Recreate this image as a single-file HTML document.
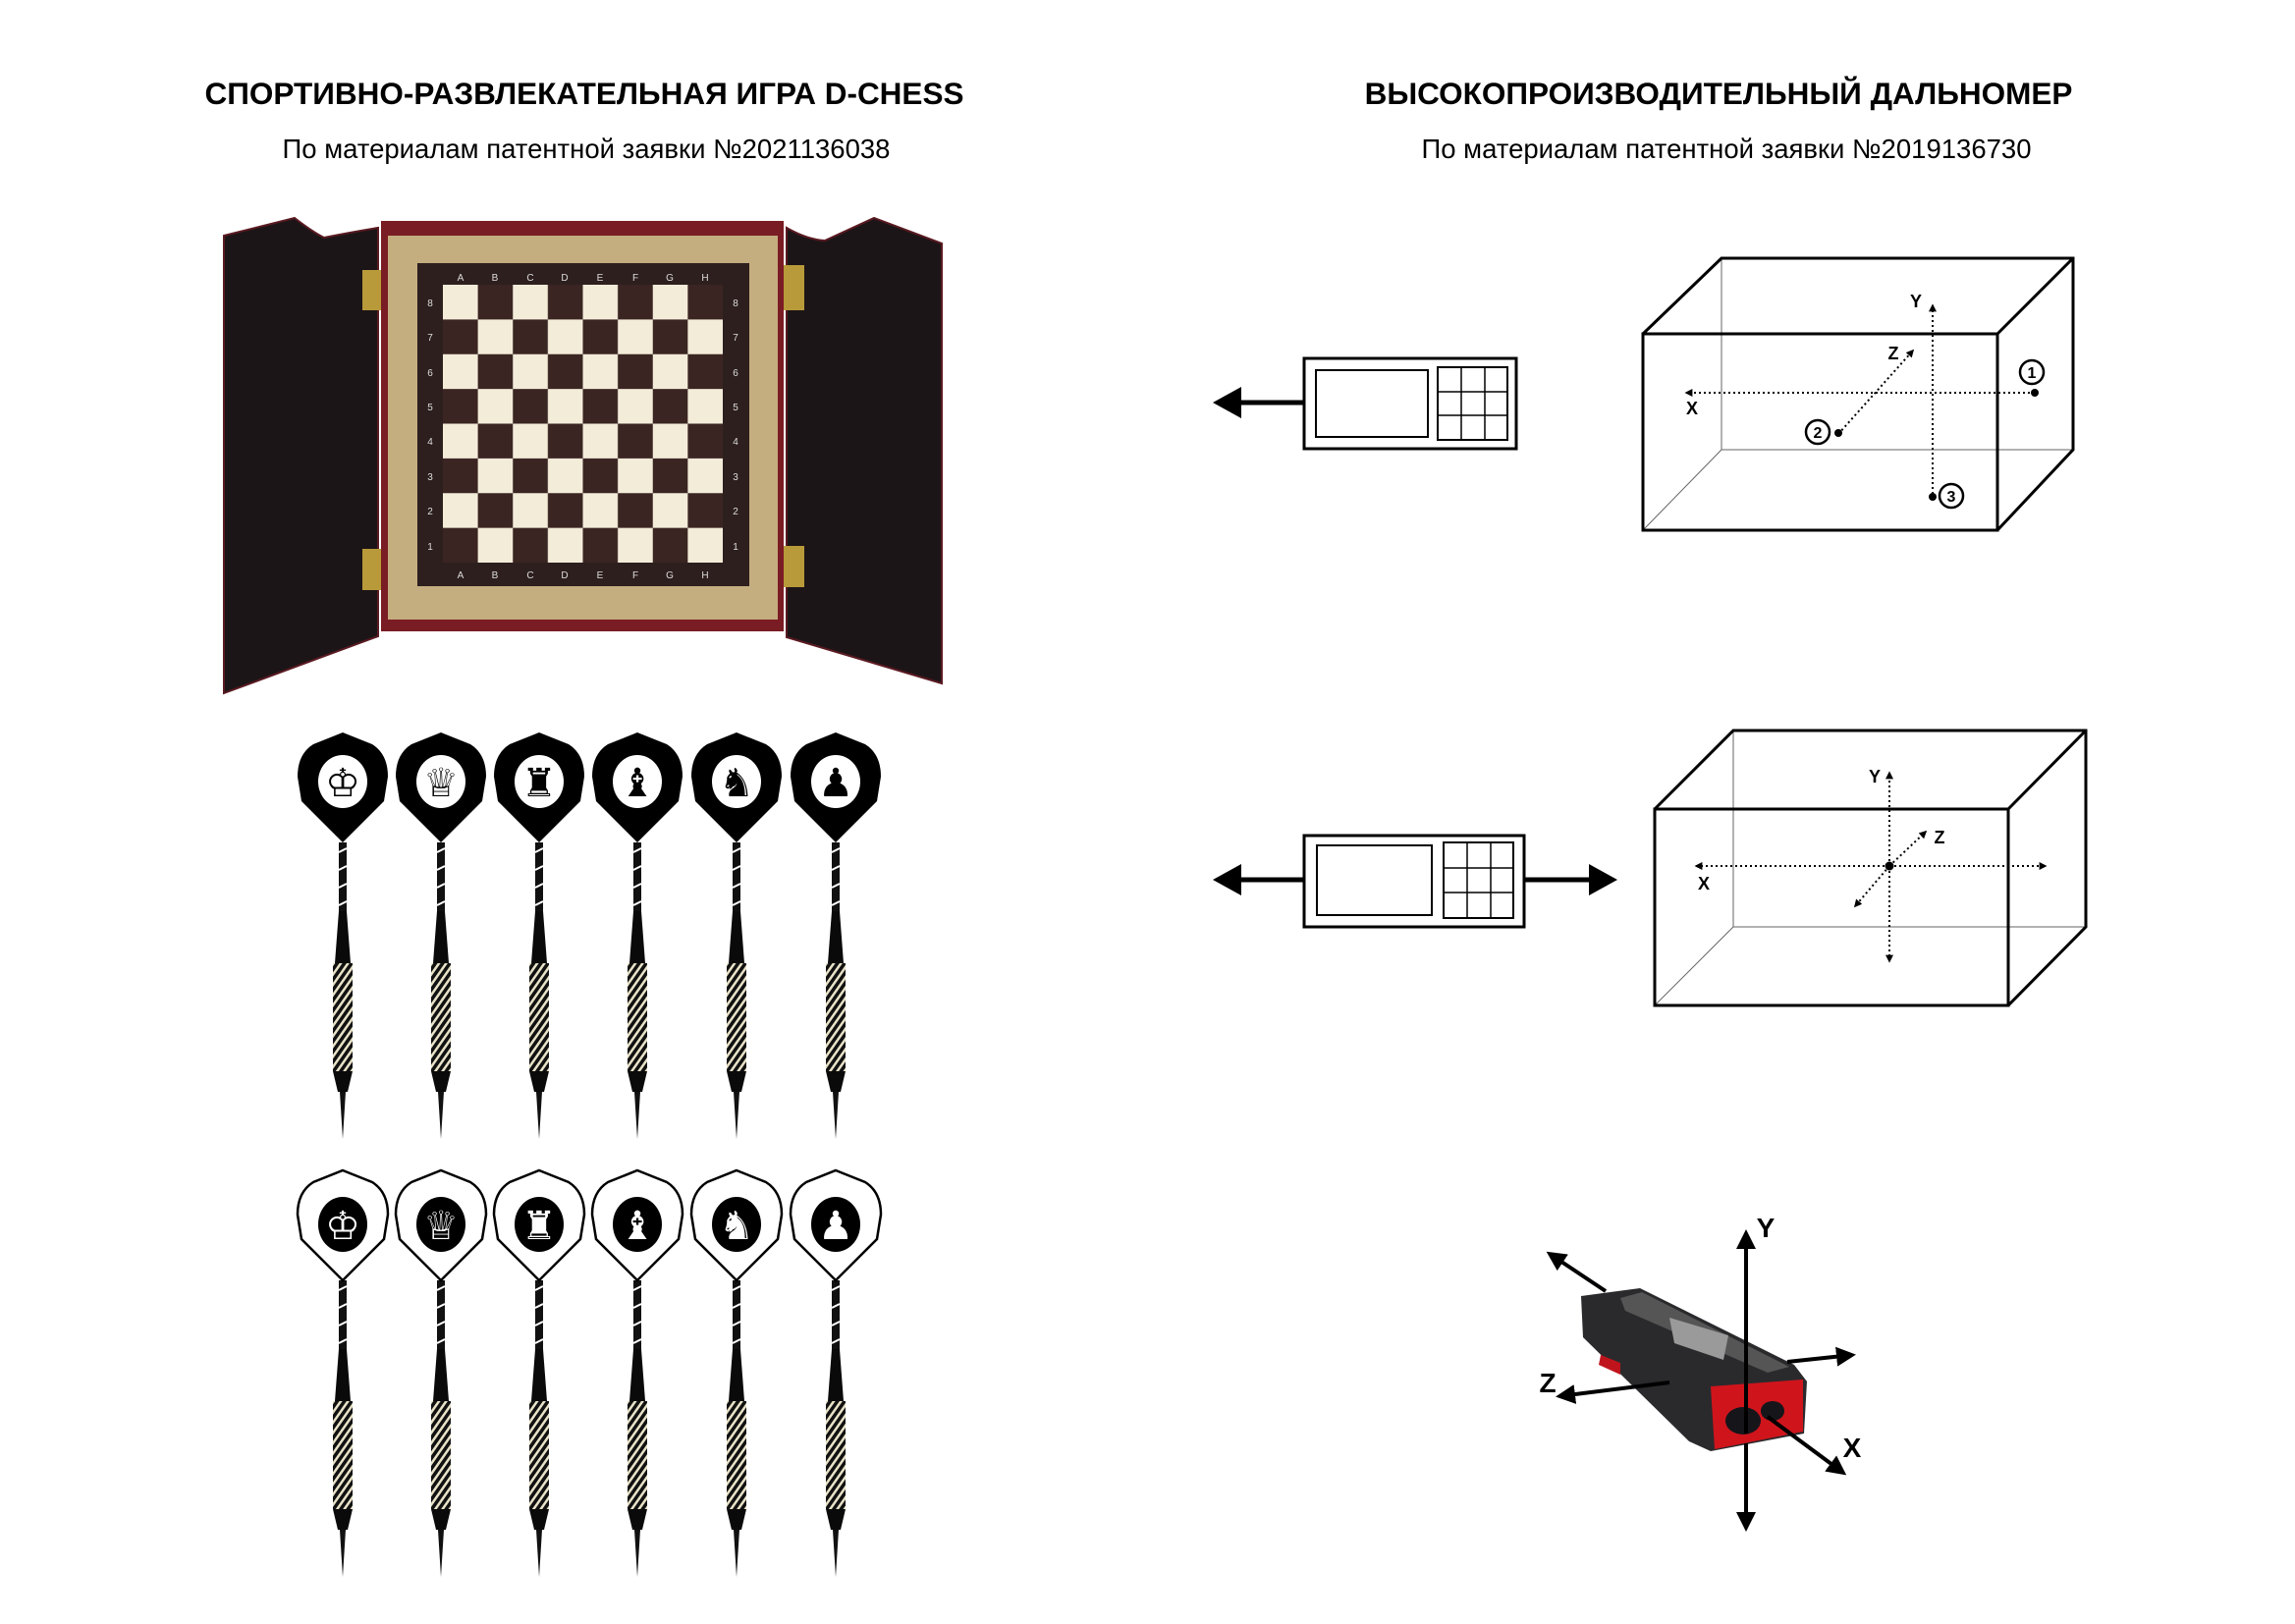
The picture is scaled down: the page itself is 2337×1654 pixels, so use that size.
<!DOCTYPE html>
<html><head><meta charset="utf-8"><style>
html,body{margin:0;padding:0;background:#fff}
svg{display:block}
.t{font-family:"Liberation Sans",sans-serif}
</style></head><body>
<svg width="2337" height="1654" viewBox="0 0 2337 1654" xmlns="http://www.w3.org/2000/svg">
<defs>
<pattern id="chk" x="451" y="290" width="71.25" height="70.75" patternUnits="userSpaceOnUse">
<rect width="71.25" height="70.75" fill="#f3ecd9"/>
<rect x="35.6" y="0" width="35.65" height="35.4" fill="#3a2522"/>
<rect x="0" y="35.4" width="35.6" height="35.35" fill="#3a2522"/>
</pattern>
<pattern id="str" width="6" height="6" patternUnits="userSpaceOnUse" patternTransform="rotate(35)">
<rect width="6" height="6" fill="#111"/><rect width="2.5" height="6" fill="#e8e2c8"/>
</pattern>
<g id="body">
<rect x="-4" y="112" width="8" height="70" fill="#111"/>
<path d="M-4,122 l8,-4 M-4,140 l8,-4 M-4,158 l8,-4 M-4,176 l8,-4" stroke="#fff" stroke-width="2"/>
<polygon points="-4,182 4,182 8,235 -8,235" fill="#0a0a0a"/>
<rect x="-10" y="235" width="20" height="110" fill="url(#str)"/>
<polygon points="-10,345 10,345 5,366 -5,366" fill="#0a0a0a"/>
<polygon points="-3,366 3,366 0,414" fill="#111"/>
</g>
<path id="fl" d="M0,0 L30,12 Q46,22 46,45 L42,70 L0,112 L-42,70 L-46,45 Q-46,22 -30,12 Z"/>
<marker id="ah" viewBox="0 0 10 10" refX="8" refY="5" markerWidth="4" markerHeight="4" orient="auto"><path d="M0,0 L10,5 L0,10 Z" fill="#000"/></marker>
<marker id="bh" viewBox="0 0 10 10" refX="8" refY="5" markerWidth="5" markerHeight="5" orient="auto"><path d="M0,0 L10,5 L0,10 Z" fill="#000"/></marker>
</defs>

<!-- titles -->
<text class="t" x="595" y="106" font-size="31.5" font-weight="bold" text-anchor="middle">СПОРТИВНО-РАЗВЛЕКАТЕЛЬНАЯ ИГРА D-CHESS</text>
<text class="t" x="597" y="161" font-size="27.5" text-anchor="middle">По материалам патентной заявки №2021136038</text>
<text class="t" x="1750" y="106" font-size="31.5" font-weight="bold" text-anchor="middle">ВЫСОКОПРОИЗВОДИТЕЛЬНЫЙ ДАЛЬНОМЕР</text>
<text class="t" x="1758" y="161" font-size="27.5" text-anchor="middle">По материалам патентной заявки №2019136730</text>

<!-- chess cabinet -->
<path d="M228,240 L300,222 Q318,236 330,242 Q360,236 385,232 L385,648 L228,706 Z" fill="#1c1517" stroke="#5a1a22" stroke-width="2"/>
<path d="M801,232 Q822,244 840,245 Q868,232 890,222 L959,248 L959,696 L801,649 Z" fill="#1c1517" stroke="#5a1a22" stroke-width="2"/>
<rect x="388" y="225" width="410" height="418" fill="#7a1c24"/>
<rect x="395" y="240" width="397" height="391" fill="#c4ad7f"/>
<rect x="425" y="268" width="338" height="329" fill="#2d1f1e"/>
<rect x="451" y="290" width="285" height="283" fill="url(#chk)"/>
<g fill="#ddd" font-size="10" class="t" text-anchor="middle">
<text x="469" y="286">A</text><text x="504" y="286">B</text><text x="540" y="286">C</text><text x="575" y="286">D</text><text x="611" y="286">E</text><text x="647" y="286">F</text><text x="682" y="286">G</text><text x="718" y="286">H</text>
<text x="469" y="589">A</text><text x="504" y="589">B</text><text x="540" y="589">C</text><text x="575" y="589">D</text><text x="611" y="589">E</text><text x="647" y="589">F</text><text x="682" y="589">G</text><text x="718" y="589">H</text>
<text x="438" y="312">8</text><text x="438" y="347">7</text><text x="438" y="383">6</text><text x="438" y="418">5</text><text x="438" y="453">4</text><text x="438" y="489">3</text><text x="438" y="524">2</text><text x="438" y="560">1</text>
<text x="749" y="312">8</text><text x="749" y="347">7</text><text x="749" y="383">6</text><text x="749" y="418">5</text><text x="749" y="453">4</text><text x="749" y="489">3</text><text x="749" y="524">2</text><text x="749" y="560">1</text>
</g>
<g fill="#b89a3a"><rect x="369" y="275" width="19" height="41"/><rect x="369" y="559" width="19" height="42"/><rect x="798" y="270" width="21" height="46"/><rect x="798" y="556" width="21" height="42"/></g>

<!-- darts row 1 -->
<g font-family="DejaVu Sans" font-size="40" text-anchor="middle">
<g transform="translate(349,746)"><use href="#body"/><use href="#fl" fill="#000"/><ellipse cx="0" cy="50" rx="25" ry="27" fill="#fff"/><text x="0" y="65">♔</text></g>
<g transform="translate(449,746)"><use href="#body"/><use href="#fl" fill="#000"/><ellipse cx="0" cy="50" rx="25" ry="27" fill="#fff"/><text x="0" y="65">♕</text></g>
<g transform="translate(549,746)"><use href="#body"/><use href="#fl" fill="#000"/><ellipse cx="0" cy="50" rx="25" ry="27" fill="#fff"/><text x="0" y="65">♜</text></g>
<g transform="translate(649,746)"><use href="#body"/><use href="#fl" fill="#000"/><ellipse cx="0" cy="50" rx="25" ry="27" fill="#fff"/><text x="0" y="65">♝</text></g>
<g transform="translate(750,746)"><use href="#body"/><use href="#fl" fill="#000"/><ellipse cx="0" cy="50" rx="25" ry="27" fill="#fff"/><text x="0" y="65">♞</text></g>
<g transform="translate(851,746)"><use href="#body"/><use href="#fl" fill="#000"/><ellipse cx="0" cy="50" rx="25" ry="27" fill="#fff"/><text x="0" y="65">♟</text></g>
</g>
<!-- darts row 2 -->
<g font-family="DejaVu Sans" font-size="40" text-anchor="middle" fill="#fff">
<g transform="translate(349,1192)"><use href="#body"/><use href="#fl" fill="#fff" stroke="#000" stroke-width="2.5"/><ellipse cx="0" cy="55" rx="25" ry="28" fill="#000"/><text x="0" y="70">♔</text></g>
<g transform="translate(449,1192)"><use href="#body"/><use href="#fl" fill="#fff" stroke="#000" stroke-width="2.5"/><ellipse cx="0" cy="55" rx="25" ry="28" fill="#000"/><text x="0" y="70">♕</text></g>
<g transform="translate(549,1192)"><use href="#body"/><use href="#fl" fill="#fff" stroke="#000" stroke-width="2.5"/><ellipse cx="0" cy="55" rx="25" ry="28" fill="#000"/><text x="0" y="70">♜</text></g>
<g transform="translate(649,1192)"><use href="#body"/><use href="#fl" fill="#fff" stroke="#000" stroke-width="2.5"/><ellipse cx="0" cy="55" rx="25" ry="28" fill="#000"/><text x="0" y="70">♝</text></g>
<g transform="translate(750,1192)"><use href="#body"/><use href="#fl" fill="#fff" stroke="#000" stroke-width="2.5"/><ellipse cx="0" cy="55" rx="25" ry="28" fill="#000"/><text x="0" y="70">♞</text></g>
<g transform="translate(851,1192)"><use href="#body"/><use href="#fl" fill="#fff" stroke="#000" stroke-width="2.5"/><ellipse cx="0" cy="55" rx="25" ry="28" fill="#000"/><text x="0" y="70">♟</text></g>
</g>

<g transform="translate(-13,-3)">
<!-- device 1 -->
<g fill="none" stroke="#000">
<rect x="1341" y="368" width="216" height="92" stroke-width="3"/>
<rect x="1353" y="380" width="114" height="68" stroke-width="2"/>
<rect x="1477" y="377" width="71" height="74" stroke-width="2"/>
<path d="M1501,377 V451 M1525,377 V451 M1477,402 H1548 M1477,426 H1548" stroke-width="1.5"/>
<line x1="1341" y1="413" x2="1275" y2="413" stroke-width="5"/>
</g>
<polygon points="1248,413 1277,397 1277,429" fill="#000"/>
<!-- cube 1 -->
<g fill="none" stroke="#000">
<path d="M1766,266 V461 H2124 M1686,543 L1766,461" stroke-width="1" stroke="#666"/>
<rect x="1686" y="343" width="361" height="200" stroke-width="3"/>
<path d="M1686,343 L1766,266 H2124 V461 L2047,543 M2047,343 L2124,266" stroke-width="3"/>
<g stroke-dasharray="2 3" stroke-width="2">
<line x1="1981" y1="511" x2="1981" y2="314" marker-end="url(#ah)"/>
<line x1="2085" y1="403" x2="1730" y2="403" marker-end="url(#ah)"/>
<line x1="1885" y1="445" x2="1961" y2="360" marker-end="url(#ah)"/>
</g>
<circle cx="2082" cy="382" r="12" stroke-width="2.5"/>
<circle cx="1864" cy="443" r="12" stroke-width="2.5"/>
<circle cx="2000" cy="508" r="12" stroke-width="2.5"/>
</g>
<g fill="#000"><circle cx="2085" cy="403" r="4"/><circle cx="1885" cy="444" r="4"/><circle cx="1981" cy="509" r="4"/></g>
<g class="t" font-size="18" font-weight="bold" text-anchor="middle">
<text x="1964" y="316">Y</text><text x="1736" y="425">X</text><text x="1941" y="369">Z</text>
<text x="2082" y="388" font-size="16">1</text><text x="1864" y="449" font-size="16">2</text><text x="2000" y="514" font-size="16">3</text>
</g>

<!-- device 2 -->
<g fill="none" stroke="#000">
<rect x="1341" y="854" width="224" height="93" stroke-width="3"/>
<rect x="1354" y="864" width="117" height="71" stroke-width="2"/>
<rect x="1483" y="861" width="71" height="77" stroke-width="2"/>
<path d="M1507,861 V938 M1531,861 V938 M1483,887 H1554 M1483,912 H1554" stroke-width="1.5"/>
<line x1="1341" y1="899" x2="1275" y2="899" stroke-width="5"/>
<line x1="1565" y1="899" x2="1632" y2="899" stroke-width="5"/>
</g>
<polygon points="1248,899 1277,883 1277,915" fill="#000"/>
<polygon points="1660,899 1631,883 1631,915" fill="#000"/>
<!-- cube 2 -->
<g fill="none" stroke="#000">
<path d="M1778,747 V947 H2137 M1698,1027 L1778,947" stroke-width="1" stroke="#666"/>
<rect x="1698" y="827" width="360" height="200" stroke-width="3"/>
<path d="M1698,827 L1778,747 H2137 V947 L2058,1027 M2058,827 L2137,747" stroke-width="3"/>
<g stroke-dasharray="2 3" stroke-width="2">
<line x1="1937" y1="885" x2="1937" y2="790" marker-end="url(#ah)"/>
<line x1="1937" y1="885" x2="1937" y2="982" marker-end="url(#ah)"/>
<line x1="1937" y1="885" x2="1740" y2="885" marker-end="url(#ah)"/>
<line x1="1937" y1="885" x2="2096" y2="885" marker-end="url(#ah)"/>
<line x1="1937" y1="885" x2="1974" y2="850" marker-end="url(#ah)"/>
<line x1="1937" y1="885" x2="1902" y2="926" marker-end="url(#ah)"/>
</g>
</g>
<circle cx="1937" cy="885" r="4.5" fill="#000"/>
<g class="t" font-size="18" font-weight="bold" text-anchor="middle">
<text x="1922" y="800">Y</text><text x="1748" y="909">X</text><text x="1988" y="862">Z</text>
</g>
</g>

<!-- rangefinder -->
<polygon points="1610,1320 1670,1312 1827,1390 1840,1407 1837,1460 1742,1478 1720,1468 1612,1362" fill="#2a2a2d"/>
<polygon points="1650,1322 1672,1316 1822,1392 1800,1398 1655,1335" fill="#555"/>
<polygon points="1700,1342 1760,1360 1755,1385 1705,1368" fill="#9a9a9a"/>
<polygon points="1742,1412 1836,1405 1836,1458 1746,1476" fill="#d0141c"/>
<ellipse cx="1775" cy="1447" rx="18" ry="14" fill="#15151a"/>
<ellipse cx="1805" cy="1437" rx="12" ry="10" fill="#15151a"/>
<polygon points="1630,1380 1650,1388 1650,1400 1628,1390" fill="#c0141c"/>
<g stroke="#000" stroke-width="4" fill="none" marker-end="url(#bh)">
<line x1="1778" y1="1460" x2="1778" y2="1256"/>
<line x1="1778" y1="1470" x2="1778" y2="1556"/>
<line x1="1820" y1="1387" x2="1886" y2="1380"/>
<line x1="1700" y1="1408" x2="1588" y2="1422"/>
<line x1="1635" y1="1315" x2="1578" y2="1277"/>
<line x1="1800" y1="1443" x2="1877" y2="1500"/>
</g>
<g class="t" font-size="28" font-weight="bold" text-anchor="middle">
<text x="1798" y="1260">Y</text><text x="1576" y="1418">Z</text><text x="1886" y="1484">X</text>
</g>
</svg>
</body></html>
